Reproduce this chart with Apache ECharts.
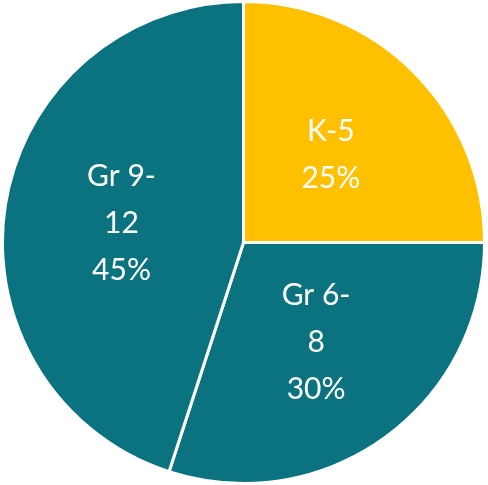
<!DOCTYPE html>
<html><head><meta charset="utf-8">
<script src="https://cdn.jsdelivr.net/npm/echarts@6/dist/echarts.min.js"></script>
<style>html,body{margin:0;padding:0;background:#fff}#c{width:488px;height:485px}</style>
</head><body><div id="c"></div>
<script>
const categories = ["K-5", "Gr 6-8", "Gr 9-12"];
const values = [25, 30, 45];
const colors = ["#FFC000", "#0B7380", "#0B7380"];

const chart = echarts.init(document.getElementById('c'), null, {renderer: 'canvas'});
chart.setOption({
  animation: false,
  series: [{
    type: 'pie',
    center: [243.5, 242.5],
    radius: [0, 241],
    startAngle: 90,
    clockwise: true,
    data: categories.map((c, i) => ({name: c, value: values[i], itemStyle: {color: colors[i]}})),
    itemStyle: {borderColor: '#fff', borderWidth: 3},
    label: {
      position: 'inside',
      color: '#fff',
      fontFamily: 'Lato',
      fontSize: 30,
      lineHeight: 47,
      formatter: p => p.name.replace(/^(Gr \d+-)/, '$1\n') + '\n' + p.percent + '%'
    },
    labelLine: {show: false},
    emphasis: {disabled: true}
  }]
});
</script></body></html>
